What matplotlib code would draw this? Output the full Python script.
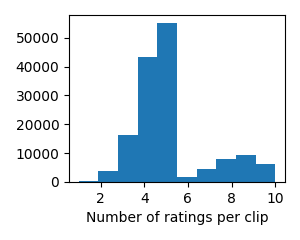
import matplotlib
matplotlib.use("Agg")
import matplotlib.pyplot as plt

# number of ratings a clip received, and how many clips got that many
n_ratings = [1, 2, 3, 4, 5, 6, 7, 8, 9, 10]
n_clips = [350, 3800, 16300, 43300, 55100, 1700, 4500, 7950, 9350, 6250]

fig, ax = plt.subplots(figsize=(3, 2.4), dpi=100)
ax.hist(n_ratings, bins=10, weights=n_clips, color="#1f77b4")
ax.set_xlabel("Number of ratings per clip")
fig.subplots_adjust(left=0.23, right=0.95, top=0.937, bottom=0.242)
fig.savefig("out.png")
